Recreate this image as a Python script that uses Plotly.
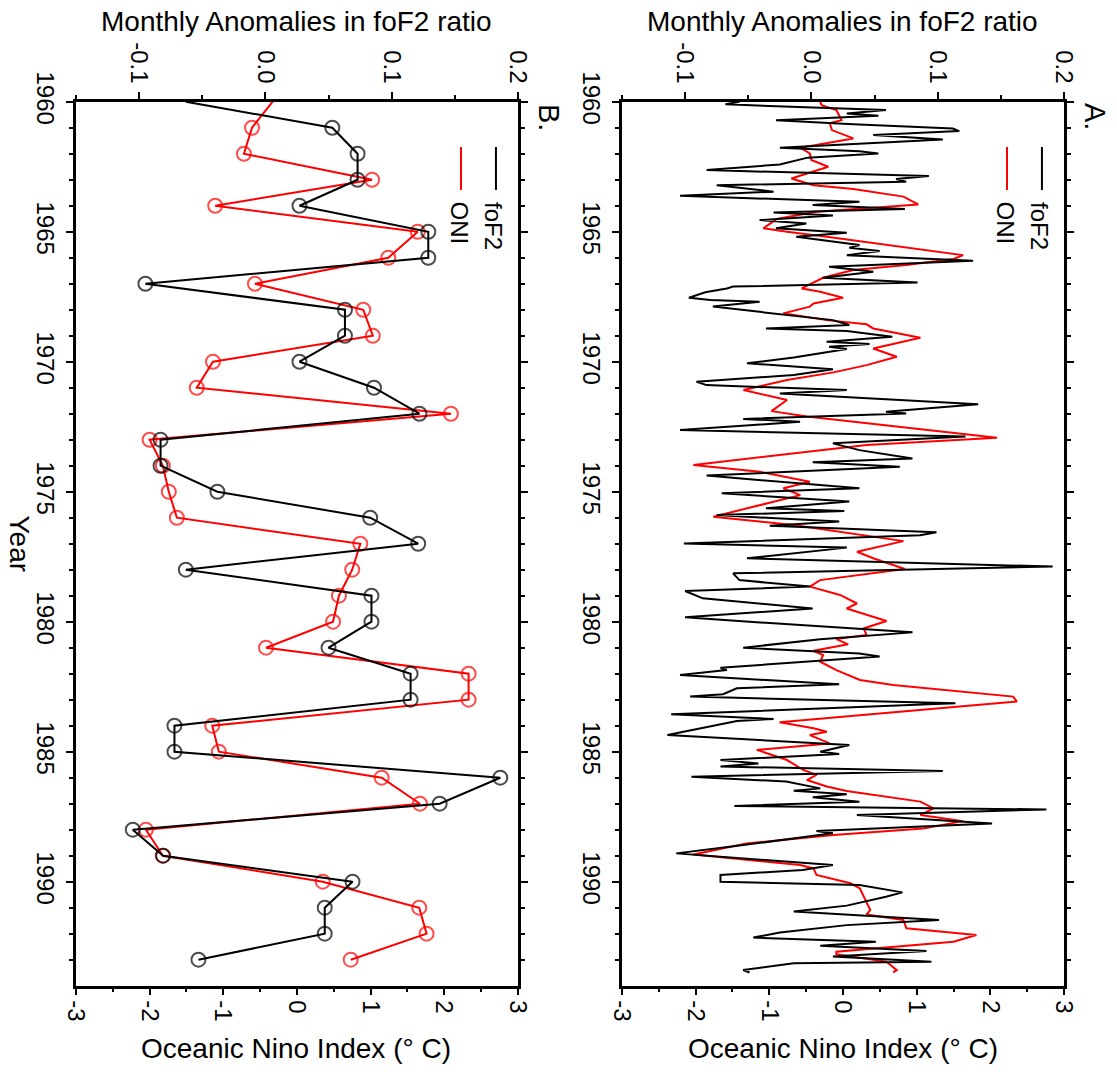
import plotly.graph_objects as go

FONT = "Liberation Sans, Arial, Helvetica, sans-serif"

# ---------------- Panel B: yearly values ----------------
years_b = list(range(1960, 1994))
fof2_b = [-0.063, 0.053, 0.073, 0.073, 0.027, 0.129, 0.129, -0.095, 0.063, 0.063,
          0.027, 0.086, 0.122, -0.083, -0.083, -0.038, 0.083, 0.121, -0.063, 0.084,
          0.084, 0.050, 0.115, 0.115, -0.072, -0.072, 0.186, 0.138, -0.105, -0.081,
          0.069, 0.047, 0.047, -0.053]
oni_b = [-0.33, -0.61, -0.72, 1.02, -1.11, 1.64, 1.24, -0.57, 0.90, 1.03,
         -1.14, -1.36, 2.09, -2.00, -1.82, -1.74, -1.63, 0.86, 0.75, 0.57,
         0.49, -0.42, 2.33, 2.33, -1.15, -1.06, 1.15, 1.67, -2.05, -1.82,
         0.35, 1.66, 1.76, 0.73]

# ---------------- Panel A: monthly values ----------------
fof2_t = [1960.00, 1960.10, 1960.32, 1960.45, 1960.54, 1960.71, 1960.87, 1961.03, 1961.13, 1961.28,
          1961.45, 1961.77, 1961.90, 1961.99, 1962.15, 1962.41, 1962.63, 1962.86, 1962.97, 1963.08,
          1963.21, 1963.46, 1963.62, 1963.85, 1963.97, 1964.13, 1964.26, 1964.38, 1964.55, 1964.68,
          1964.87, 1965.04, 1965.19, 1965.51, 1965.62, 1965.74, 1965.90, 1966.12, 1966.35, 1966.54,
          1966.77, 1966.95, 1967.11, 1967.18, 1967.33, 1967.54, 1967.63, 1967.69, 1967.88, 1968.20,
          1968.40, 1968.59, 1968.72, 1968.82, 1969.04, 1969.23, 1969.32, 1969.42, 1969.51, 1969.84,
          1970.06, 1970.29, 1970.51, 1970.77, 1970.90, 1971.09, 1971.22, 1971.64, 1971.92, 1971.99,
          1972.20, 1972.31, 1972.63, 1972.88, 1973.14, 1973.40, 1973.72, 1973.87, 1974.04, 1974.38,
          1974.87, 1975.06, 1975.38, 1975.64, 1975.74, 1975.90, 1976.15, 1976.31, 1976.56, 1976.67,
          1976.99, 1977.15, 1977.56, 1977.88, 1978.14, 1978.40, 1978.65, 1978.82, 1979.10, 1979.49,
          1979.83, 1980.00, 1980.41, 1980.67, 1981.00, 1981.22, 1981.34, 1981.77, 1981.86, 1982.05,
          1982.41, 1982.56, 1982.79, 1982.88, 1983.14, 1983.56, 1983.74, 1983.82, 1984.36, 1984.74,
          1985.00, 1985.09, 1985.32, 1985.45, 1985.57, 1985.74, 1985.96, 1986.15, 1986.41, 1986.50,
          1986.64, 1986.75, 1986.92, 1987.09, 1987.22, 1987.43, 1987.76, 1988.05, 1988.14, 1988.61,
          1988.91, 1989.36, 1989.55, 1989.74, 1990.00, 1990.13, 1990.41, 1990.58, 1990.92, 1991.15,
          1991.47, 1991.67, 1991.95, 1992.15, 1992.31, 1992.46, 1992.67, 1992.88, 1993.08, 1993.14,
          1993.40, 1993.49]
fof2_v = [-0.057, -0.068, 0.059, 0.028, 0.053, -0.028, 0.033, 0.112, 0.117, 0.049,
          0.104, -0.025, 0.038, 0.053, -0.003, -0.025, -0.083, 0.093, 0.067, 0.075,
          -0.075, -0.030, -0.104, 0.038, 0.001, 0.074, -0.030, 0.017, -0.041, -0.004,
          -0.028, 0.028, -0.012, 0.038, 0.030, 0.054, 0.028, 0.128, 0.014, 0.049,
          0.009, 0.084, -0.062, -0.067, -0.084, -0.097, -0.080, -0.041, -0.078, -0.022,
          0.017, 0.030, -0.036, 0.028, 0.064, 0.012, 0.046, 0.014, 0.028, -0.014,
          -0.051, 0.017, -0.014, -0.091, -0.083, 0.028, -0.025, 0.132, 0.059, 0.075,
          -0.054, -0.009, -0.104, 0.122, 0.017, 0.038, 0.080, 0.001, 0.070, -0.083,
          0.038, -0.071, 0.030, -0.036, 0.026, -0.075, 0.022, -0.033, 0.099, 0.086,
          -0.101, 0.028, -0.051, 0.191, -0.062, -0.057, -0.001, -0.100, -0.086, 0.001,
          -0.100, -0.049, 0.080, 0.007, -0.054, 0.038, 0.054, -0.072, -0.067, -0.104,
          0.022, -0.059, -0.070, -0.096, 0.114, -0.111, -0.030, -0.059, -0.114, 0.030,
          0.007, 0.022, -0.072, -0.042, -0.072, 0.104, -0.095, -0.020, 0.007, -0.014,
          0.028, 0.001, 0.038, -0.061, 0.186, 0.036, 0.143, 0.004, 0.017, -0.057,
          -0.107, 0.017, -0.007, -0.072, -0.072, 0.038, 0.072, 0.059, 0.028, -0.014,
          0.101, 0.028, -0.025, -0.046, 0.051, 0.007, 0.091, 0.017, 0.095, -0.014,
          -0.054, -0.049]

oni_t = [1960.00, 1960.13, 1960.32, 1960.71, 1960.83, 1961.09, 1961.41, 1961.60, 1961.77, 1961.99,
         1962.24, 1962.50, 1962.95, 1963.21, 1963.36, 1963.65, 1963.95, 1964.23, 1964.51, 1964.87,
         1965.00, 1965.19, 1965.51, 1965.90, 1966.05, 1966.28, 1966.47, 1966.77, 1967.18, 1967.31,
         1967.54, 1967.76, 1967.88, 1968.14, 1968.40, 1968.56, 1968.72, 1969.08, 1969.49, 1969.81,
         1970.13, 1970.41, 1970.70, 1971.09, 1971.47, 1971.90, 1972.11, 1972.92, 1973.20, 1973.97,
         1974.23, 1974.62, 1974.87, 1975.13, 1975.96, 1976.28, 1976.90, 1977.31, 1977.56, 1977.97,
         1978.40, 1978.65, 1978.97, 1979.30, 1979.49, 1979.97, 1980.26, 1980.51, 1980.67, 1980.87,
         1981.12, 1981.28, 1981.54, 1981.86, 1982.24, 1982.43, 1982.88, 1983.07, 1983.87, 1984.10,
         1984.23, 1984.36, 1984.68, 1984.93, 1985.32, 1985.70, 1985.89, 1986.09, 1986.34, 1986.51,
         1986.92, 1987.18, 1987.43, 1987.67, 1987.95, 1988.20, 1988.53, 1988.95, 1989.36, 1989.49,
         1989.74, 1990.06, 1990.26, 1990.58, 1990.79, 1991.09, 1991.26, 1991.47, 1991.79, 1992.05,
         1992.31, 1992.69, 1992.79, 1993.08, 1993.40, 1993.49]
oni_v = [-0.31, -0.29, -0.09, -0.02, -0.18, -0.15, 0.14, -0.24, -0.58, -0.45,
         -0.43, -0.20, -0.70, -0.40, 0.14, 0.82, 1.02, -0.36, -0.90, -1.08,
         -0.76, -0.22, 0.59, 1.63, 1.50, 0.86, 0.14, -0.27, -0.56, -0.31,
         0.00, -0.40, -0.45, -0.81, -0.22, 0.32, 0.41, 1.05, 0.41, 0.73,
         0.32, -0.13, -0.76, -1.35, -0.76, -0.97, -0.49, 2.09, 0.32, -2.03,
         -1.13, -0.45, -0.81, -0.58, -1.76, -0.67, 0.82, 0.19, 0.41, 0.84,
         -0.31, -0.45, -0.04, 0.19, 0.05, 0.59, 0.28, 0.32, -0.09, 0.07,
         -0.40, -0.27, -0.31, -0.09, 0.23, 0.68, 2.31, 2.36, -0.86, -0.40,
         -0.22, -0.45, -0.18, -1.17, -0.76, -0.54, -0.36, -0.49, -0.22, 0.05,
         1.05, 1.23, 1.05, 1.63, 1.09, -0.13, -1.31, -2.03, -0.58, -0.40,
         -0.36, 0.10, 0.23, 0.28, 0.32, 0.37, 0.32, 0.82, 0.86, 1.81,
         1.50, -0.09, -0.09, 0.59, 0.73, 0.68]

# ---------------- Tick labels / text ----------------
year_ticks = [1960, 1965, 1970, 1975, 1980, 1985, 1990]
year_labels = ["1960", "1965", "1970", "1975", "1980", "1985", "1990"]
oni_ticks = [-3, -2, -1, 0, 1, 2, 3]
oni_labels = ["-3", "-2", "-1", "0", "1", "2", "3"]
fof2_ticks = [-0.1, 0.0, 0.1, 0.2]
fof2_labels = ["-0.1", "0.0", "0.1", "0.2"]
top_title = "Monthly Anomalies in foF2 ratio"
bottom_title = "Oceanic Nino Index (° C)"
year_title = "Year"

marker_sizes = [0 if y == 1960 else 14 for y in years_b]

fig = go.Figure()

# Panel B
fig.add_trace(go.Scatter(x=fof2_b, y=years_b, xaxis="x2", yaxis="y", mode="lines+markers",
                         line=dict(color="black", width=2),
                         marker=dict(symbol="circle-open", size=marker_sizes, color="black",
                                     line=dict(width=2, color="black")),
                         showlegend=False))
fig.add_trace(go.Scatter(x=oni_b, y=years_b, xaxis="x", yaxis="y", mode="lines+markers",
                         line=dict(color="red", width=2),
                         marker=dict(symbol="circle-open", size=marker_sizes, color="red",
                                     line=dict(width=2, color="red")),
                         showlegend=False))
# Panel A
fig.add_trace(go.Scatter(x=fof2_v, y=fof2_t, xaxis="x4", yaxis="y2", mode="lines",
                         line=dict(color="black", width=2), showlegend=False))
fig.add_trace(go.Scatter(x=oni_v, y=oni_t, xaxis="x3", yaxis="y2", mode="lines",
                         line=dict(color="red", width=2), showlegend=False))

tickfont = dict(family=FONT, size=24, color="black")
base = dict(showline=True, linecolor="black", linewidth=2.5, ticks="outside", ticklen=7,
            tickwidth=1.5, tickcolor="black", showgrid=False, zeroline=False,
            tickangle=90, tickfont=tickfont, automargin=False)

dom_b = [0.0680, 0.4637]
dom_a = [0.5568, 0.9526]
dom_y = [0.0805, 0.9051]


def oni_axis(domain, anchor):
    return dict(base, domain=domain, anchor=anchor, range=[-3, 3], side="bottom",
                tickmode="array", tickvals=oni_ticks, ticktext=oni_labels,
                minor=dict(tickmode="array", tickvals=[-2.5, -1.5, -0.5, 0.5, 1.5, 2.5],
                           ticks="outside", ticklen=4, tickwidth=1.5, tickcolor="black"))


def fof2_axis(over, anchor):
    return dict(base, overlaying=over, anchor=anchor, range=[-0.15, 0.2], side="top",
                tickmode="array", tickvals=fof2_ticks, ticktext=fof2_labels,
                minor=dict(tickmode="array", tickvals=[-0.15, -0.05, 0.05, 0.15],
                           ticks="outside", ticklen=4, tickwidth=1.5, tickcolor="black"))


def year_axis(anchor):
    return dict(base, domain=dom_y, anchor=anchor, range=[1994, 1960], mirror="ticks",
                tickmode="array", tickvals=year_ticks, ticktext=year_labels,
                minor=dict(tickmode="array", tickvals=list(range(1961, 1994)),
                           ticks="outside", ticklen=4, tickwidth=1.5, tickcolor="black"))


fig.update_layout(
    width=1117, height=1072, autosize=False,
    margin=dict(l=0, r=0, t=0, b=0, pad=0, autoexpand=False),
    paper_bgcolor="white", plot_bgcolor="white",
    font=dict(family=FONT, color="black"),
    xaxis=oni_axis(dom_b, "y"),
    xaxis2=fof2_axis("x", "y"),
    yaxis=year_axis("x"),
    xaxis3=oni_axis(dom_a, "y2"),
    xaxis4=fof2_axis("x3", "y2"),
    yaxis2=year_axis("x3"),
)

ann = []
for cx in [0.2654, 0.7547]:
    ann.append(dict(text=top_title, x=cx, y=0.9804, xref="paper", yref="paper",
                    showarrow=False, xanchor="center", yanchor="middle",
                    font=dict(family=FONT, size=28, color="black")))
    ann.append(dict(text=bottom_title, x=cx, y=0.0215, xref="paper", yref="paper",
                    showarrow=False, xanchor="center", yanchor="middle",
                    font=dict(family=FONT, size=28, color="black")))
ann.append(dict(text=year_title, x=0.0175, y=0.4925, xref="paper", yref="paper",
                showarrow=False, textangle=90, xanchor="center", yanchor="middle",
                font=dict(family=FONT, size=28, color="black")))
for lx, lab in [(0.4915, "B."), (0.9803, "A.")]:
    ann.append(dict(text=lab, x=lx, y=0.8909, xref="paper", yref="paper",
                    showarrow=False, textangle=90, xanchor="center", yanchor="middle",
                    font=dict(family=FONT, size=29, color="black")))

shapes = []
for off in [0.0, 0.4888]:
    for lx, tx, col, lab in [(0.4440, 0.4423, "black", "foF2"), (0.4127, 0.4109, "red", "ONI")]:
        shapes.append(dict(type="line", xref="paper", yref="paper",
                           x0=lx + off, x1=lx + off, y0=0.8629, y1=0.8228,
                           line=dict(color=col, width=2)))
        ann.append(dict(text=lab, x=tx + off, y=0.8134, xref="paper", yref="paper",
                        showarrow=False, textangle=90, xanchor="center", yanchor="top",
                        font=dict(family=FONT, size=24, color="black")))

fig.update_layout(annotations=ann, shapes=shapes)
fig.write_html("out.html")
